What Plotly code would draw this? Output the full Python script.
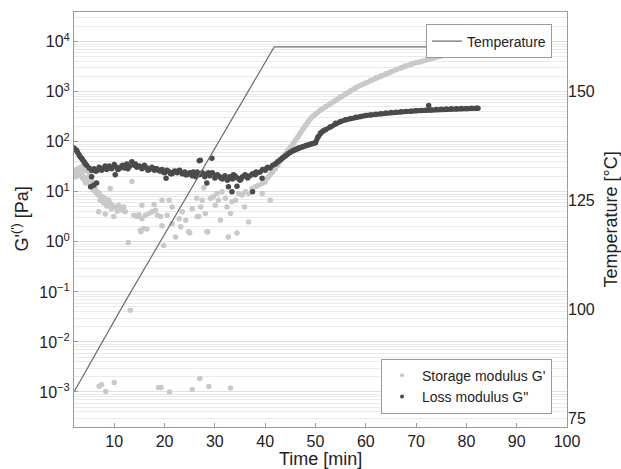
import plotly.graph_objects as go

# ---------------- data ----------------
# Storage modulus G' [Pa] : scattered points (t < 41 min)
storage_t = [2.0, 2.2, 2.4, 2.6, 2.8, 3.0, 3.2, 3.4, 3.6, 3.8, 4.0, 4.2, 4.4, 4.6, 4.8, 5.0, 5.2,
             3.7, 4.1, 4.3, 4.6, 4.9, 5.2, 5.6, 5.9, 6.2, 6.6, 6.9, 7.2, 7.6, 8.2, 8.2, 8.9, 9.2, 9.6,
             10.2, 10.9, 11.2, 11.6, 11.9, 12.2, 6.9, 8.2, 9.9, 9.2, 10.2, 13.5, 13.9, 14.5, 14.9,
             15.5, 16.2, 16.9, 17.5, 17.9, 18.2, 18.6, 19.2, 15.5, 15.2, 15.9, 12.8, 13.2, 15.3,
             16.5, 19.5, 19.8, 19.5, 20.9, 21.5, 20.5, 21.5, 22.2, 22.9, 23.5, 23.2, 24.2, 24.8,
             25.0, 25.5, 26.5, 27.2, 27.5, 26.4, 26.8, 27.8, 28.1, 28.4, 28.6, 29.1, 29.7, 30.4,
             30.1, 30.7, 31.1, 31.4, 32.1, 32.4, 33.1, 32.7, 33.4, 34.1, 34.4, 34.7, 35.4, 36.1,
             36.7, 35.9, 36.7, 37.4, 38.1, 38.7, 39.4, 40.0, 39.4, 41.0,
             2.3, 2.7, 3.1, 3.5, 3.9, 4.3, 4.7, 5.1, 5.5, 6.0, 6.4, 7.0, 7.4, 7.9, 8.5, 9.4, 10.6,
             7.0, 7.5, 8.3, 10.0, 18.8, 19.3, 21.0, 25.5, 27.0, 28.8, 33.1]
storage_v = [22, 26, 20, 28, 24, 30, 27, 31, 25, 29, 33, 27, 30, 26, 28, 24, 21,
             19, 17, 15, 17, 16, 14, 16, 10.7, 12, 10, 8.6, 6.8, 8, 7.4, 6.3, 6.8, 5.8, 5.4,
             5, 5.4, 4.6, 4.3, 5, 4, 4, 3.6, 3.2, 11.7, 22, 16, 3.4, 3.2, 3.5,
             2.9, 3.4, 3.7, 4, 5.6, 4.3, 3.4, 3.2, 5.4, 1.7, 1.85, 0.97, 0.043, 1.6,
             1.8, 2.1, 0.85, 6.8, 6.8, 5, 3.4, 2.3, 1.25, 2.9, 4, 2, 2.7, 1.6,
             1.5, 4.6, 3.2, 5, 6.8, 7.4, 3.2, 12, 3.7, 1.6, 1.6, 7.4, 8, 9.3,
             5.4, 6.8, 2.7, 10, 7.4, 5, 3.7, 1.25, 6.3, 6.8, 1.5, 9.3, 8.6, 10,
             9.3, 5, 2.5, 11.7, 12.6, 13.6, 14.7, 15.8, 9.3, 6.8,
             24, 21, 25, 22, 20, 18, 19, 15, 13, 12, 9.5, 9.5, 7.2, 6, 5.2, 4.6, 4.1,
             0.0013, 0.0014, 0.00102, 0.00155, 0.00123, 0.00123, 0.001, 0.00112, 0.00186, 0.00129, 0.0012]

# Storage modulus G' [Pa] : continuous rise (t >= 40.5 min)
storage_curve_t = [40.5, 41.0, 41.5, 42.0, 42.5, 43.0, 43.5, 44.0, 44.5, 45.0, 45.5, 46.0, 46.5,
                   47.0, 47.5, 48.0, 48.5, 49.0, 49.5, 50.0, 51.0, 52.0, 53.0, 54.0, 55.0, 56.0,
                   57.0, 58.0, 59.0, 60.0, 61.0, 62.0, 63.0, 64.0, 65.0, 66.0, 67.0, 68.0, 69.0,
                   70.0, 71.0, 72.0, 73.0, 74.0, 75.0, 76.0, 77.0, 78.0, 79.0, 80.0, 81.0, 82.0, 82.3]
storage_curve_v = [19, 22, 25, 29, 34, 41, 48, 57, 66, 77, 88, 105, 125,
                   150, 180, 215, 250, 290, 325, 360, 430, 500, 580, 680, 800, 920,
                   1050, 1200, 1350, 1500, 1700, 1900, 2100, 2300, 2500, 2750, 3000, 3300, 3550,
                   3800, 4000, 4300, 4600, 4900, 5200, 5500, 5900, 6200, 6600, 7000, 7500, 7800, 8000]

# Loss modulus G'' [Pa] : scattered points (t < 42 min)
loss_t = [2.0, 2.5, 3.0, 3.5, 4.0, 4.5, 5.0, 5.5, 6.0, 6.5, 7.0, 7.5, 8.0, 8.5, 9.0, 9.5, 10.0,
          10.5, 11.0, 11.5, 12.0, 12.5, 13.0, 13.5, 14.0, 14.5, 15.0, 15.5, 16.0, 16.5, 17.0,
          17.5, 18.0, 18.5, 19.0, 19.5, 20.0, 20.5, 21.0, 21.5, 22.0, 22.5, 23.0, 23.5, 24.0,
          24.5, 25.0, 25.5, 26.0, 26.5, 27.0, 27.5, 28.0, 28.5, 29.0, 29.5, 30.0, 30.5, 31.0,
          31.5, 32.0, 32.5, 33.0, 33.5, 34.0, 34.5, 35.0, 35.5, 36.0, 36.5, 37.0, 37.5, 38.0,
          38.5, 39.0, 39.5, 40.0, 40.5, 41.0, 41.5,
          2.2, 2.7, 3.2, 3.7, 4.2, 6.2, 7.2, 8.2, 9.2, 10.7, 11.7, 12.7, 14.2, 15.7, 16.7,
          18.2, 19.7, 21.2, 22.7, 24.2, 25.7, 26.2, 28.7, 30.2, 31.2, 33.7, 35.2, 36.2, 38.2, 40.2,
          5.3, 5.5, 6.5, 10.2, 20.3, 26.9, 27.1, 29.4, 28.4, 32.7, 33.4, 34.4, 37.5, 39.4, 5.9]
loss_v = [75, 68, 55, 47, 40, 34, 30, 27, 29, 26, 31, 27, 30, 28, 33, 29, 35,
          31, 29, 33, 30, 36, 32, 40, 34, 31, 33, 29, 34, 30, 28,
          31, 27, 29, 26, 28, 24, 27, 25, 23, 26, 24, 27, 23, 25,
          22, 24, 21, 23, 25, 22, 24, 20, 23, 21, 24, 19, 22, 20,
          18, 21, 17, 20, 18, 21, 19, 17, 20, 22, 19, 21, 23, 22,
          24, 25, 28, 27, 31, 30, 34,
          70, 62, 50, 44, 37, 26, 29, 33, 30, 28, 34, 29, 36, 31, 27,
          29, 25, 23, 26, 22, 25, 20, 24, 21, 19, 22, 18, 21, 25, 29,
          12.6, 20, 15, 22, 18.6, 42, 43, 47, 15, 12.6, 10, 13, 10, 18.6, 13.5]

# Loss modulus G'' [Pa] : continuous part (t >= 42 min)
loss_curve_t = [42.0, 42.5, 43.0, 43.5, 44.0, 44.5, 45.0, 45.5, 46.0, 46.5, 47.0, 47.5, 48.0,
                48.5, 49.0, 49.5, 50.0, 50.5, 51.0, 51.5, 52.0, 53.0, 54.0, 55.0, 56.0, 57.0,
                58.0, 59.0, 60.0, 61.0, 62.0, 63.0, 64.0, 65.0, 66.0, 67.0, 68.0, 69.0, 70.0,
                71.0, 72.0, 73.0, 74.0, 75.0, 76.0, 77.0, 78.0, 79.0, 80.0, 81.0, 82.0, 82.3]
loss_curve_v = [36, 40, 44, 48, 52, 57, 62, 66, 70, 74, 77, 80, 83,
                86, 89, 92, 96, 125, 150, 165, 175, 200, 235, 255, 275, 292,
                308, 322, 335, 345, 355, 365, 375, 383, 391, 398, 404, 410, 416,
                422, 428, 434, 440, 445, 450, 455, 459, 462, 465, 467, 469, 470]
loss_blip_t = [72.5]
loss_blip_v = [530]

# Temperature [°C]
temp_t = [2.0, 12.0, 41.8, 82.3]
temp_v = [81.1, 101.5, 160.3, 160.3]

# tick labels and titles
x_ticks = [10, 20, 30, 40, 50, 60, 70, 80, 90, 100]
y_tickvals = [1e-3, 1e-2, 1e-1, 1e0, 1e1, 1e2, 1e3, 1e4]
y_ticktext = ["10<sup>\u22123</sup>", "10<sup>\u22122</sup>", "10<sup>\u22121</sup>", "10<sup>0</sup>",
              "10<sup>1</sup>", "10<sup>2</sup>", "10<sup>3</sup>", "10<sup>4</sup>"]
y2_ticks = [75, 100, 125, 150]
x_title = "Time [min]"
y_title = "G'<sup>(')</sup> [Pa]"
y2_title = "Temperature [°C]"

# ---------------- figure ----------------
FONT = "Liberation Sans, Arial, Helvetica, sans-serif"
LIGHT = "#c9c9c9"
DARK = "#4a4a4a"
MS = 5.5
fig = go.Figure()

fig.add_trace(go.Scatter(x=storage_t, y=storage_v, mode="markers", showlegend=False,
                         marker=dict(color=LIGHT, size=MS, line=dict(width=0))))
fig.add_trace(go.Scatter(x=storage_curve_t, y=storage_curve_v, mode="lines+markers", showlegend=False,
                         line=dict(color=LIGHT, width=5), marker=dict(color=LIGHT, size=MS)))
fig.add_trace(go.Scatter(x=loss_t, y=loss_v, mode="markers", showlegend=False,
                         marker=dict(color=DARK, size=MS, line=dict(width=0))))
fig.add_trace(go.Scatter(x=loss_curve_t, y=loss_curve_v, mode="lines+markers", showlegend=False,
                         line=dict(color=DARK, width=5), marker=dict(color=DARK, size=MS)))
fig.add_trace(go.Scatter(x=loss_blip_t, y=loss_blip_v, mode="markers", showlegend=False,
                         marker=dict(color=DARK, size=MS)))
# legend entries
fig.add_trace(go.Scatter(x=[None], y=[None], mode="markers", name="Storage modulus G'",
                         marker=dict(color=LIGHT, size=4), legend="legend2"))
fig.add_trace(go.Scatter(x=[None], y=[None], mode="markers", name="Loss modulus G''",
                         marker=dict(color=DARK, size=4), legend="legend2"))
fig.add_trace(go.Scatter(x=temp_t, y=temp_v, mode="lines", name="Temperature", yaxis="y2",
                         line=dict(color="#6e6e6e", width=1.2), legend="legend"))

fig.update_layout(
    width=621, height=469,
    margin=dict(l=74, r=54, t=12, b=42),
    paper_bgcolor="white", plot_bgcolor="white",
    font=dict(family=FONT, size=16, color="#222222"),
    showlegend=True,
    hovermode=False,
    xaxis=dict(range=[2, 100], tickvals=x_ticks, showgrid=False, zeroline=False, automargin=False,
               showline=True, linecolor="#9a9a9a", linewidth=1, mirror=True,
               ticks="inside", ticklen=4, tickcolor="#9a9a9a",
               tickfont=dict(size=16)),
    yaxis=dict(type="log", range=[-3.7, 4.594], tickvals=y_tickvals, ticktext=y_ticktext,
               automargin=False,
               showgrid=True, gridcolor="#e0e0e0", gridwidth=1, zeroline=False,
               showline=True, linecolor="#9a9a9a", linewidth=1, mirror=True,
               ticks="inside", ticklen=4, tickcolor="#9a9a9a",
               minor=dict(showgrid=True, gridcolor="#eaeaea", dtick="D1", ticks=""),
               tickfont=dict(size=16)),
    yaxis2=dict(range=[73.07, 168.3], tickvals=y2_ticks, overlaying="y", side="right",
                automargin=False,
                showgrid=False, zeroline=False, showline=False, ticks="",
                tickfont=dict(size=16)),
    legend=dict(x=0.9696, y=0.970, xanchor="right", yanchor="top",
                bgcolor="white", bordercolor="#9a9a9a", borderwidth=1,
                font=dict(size=14, color="#222222"), itemwidth=30,
                tracegroupgap=0),
    legend2=dict(x=0.9696, y=0.0323, xanchor="right", yanchor="bottom",
                 bgcolor="white", bordercolor="#9a9a9a", borderwidth=1,
                 font=dict(size=14, color="#222222"), itemwidth=30,
                 tracegroupgap=0),
    annotations=[
        dict(text=x_title, xref="paper", yref="paper", x=0.5, y=0, xanchor="center",
             yanchor="top", yshift=-19.5, showarrow=False, font=dict(size=18, color="#222222")),
        dict(text=y_title, xref="paper", yref="paper", x=0, y=0.5, xanchor="center",
             yanchor="middle", xshift=-53, textangle=-90, showarrow=False,
             font=dict(size=18, color="#222222")),
        dict(text=y2_title, xref="paper", yref="paper", x=1, y=0.5, xanchor="center",
             yanchor="middle", xshift=43, textangle=-90, showarrow=False,
             font=dict(size=18, color="#222222")),
    ],
)

# remove the default 8 px page margin so the figure fills the window exactly
fig.write_html("out.html", config={"displayModeBar": False},
               post_script="document.body.style.margin='0';")
